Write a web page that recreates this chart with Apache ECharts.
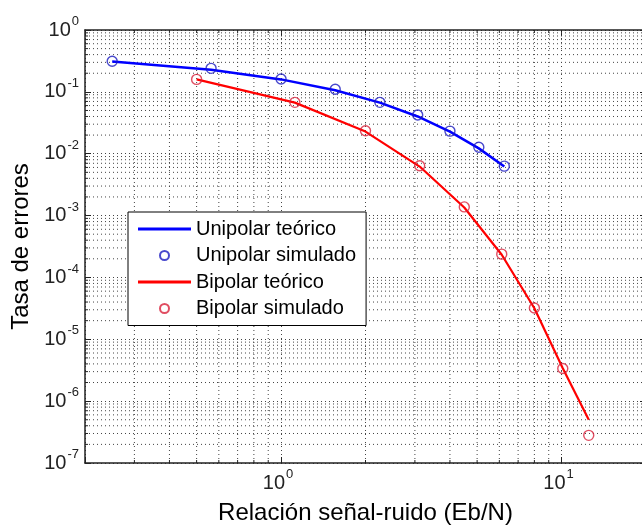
<!DOCTYPE html>
<html>
<head>
<meta charset="utf-8">
<script src="https://cdn.jsdelivr.net/npm/echarts@6/dist/echarts.min.js"></script>
<style>
  html, body { margin: 0; padding: 0; background: #fff; }
  #chart { width: 642px; height: 526px; }
</style>
</head>
<body>
<div id="chart"></div>
<script>
// Eb/N del caso unipolar y bipolar
var uniX = [0.25, 0.563, 1.0, 1.56, 2.25, 3.07, 4.0, 5.07, 6.25];
var uniTeo = [0.309, 0.227, 0.159, 0.106, 0.067, 0.040, 0.0228, 0.0122, 0.0062];
var uniSim = [0.312, 0.240, 0.161, 0.110, 0.0677, 0.0422, 0.0232, 0.0127, 0.0063];

var bipX = [0.5, 1.12, 2.0, 3.12, 4.5, 6.12, 8.0, 10.1, 12.5];
var bipTeo = [0.159, 0.067, 0.0228, 0.0062, 0.00135, 0.000233, 3.17e-5, 3.4e-6, 5.0e-7];
var bipSim = [0.159, 0.0677, 0.0235, 0.0064, 0.00138, 0.000238, 3.2e-5, 3.37e-6, 2.8e-7];

var xMin = 0.2, xMax = 20, yMin = 1e-7, yMax = 1;

var FONT = "'Liberation Sans', Arial, sans-serif";
var GRID_DASH = [1, 3];
var GRID_COLOR = '#444';

function pairs(xs, ys) {
  return xs.map(function (x, i) { return [x, ys[i]]; });
}

// rejilla menor logarítmica (2..9 de cada década)
var xMinor = [];
[0.1, 1].forEach(function (d) {
  for (var m = 2; m <= 9; m++) {
    var v = m * d;
    if (v > xMin && v < xMax) xMinor.push([v, yMin]);
  }
});
var yMinor = [];
for (var k = -7; k < 0; k++) {
  for (var m = 2; m <= 9; m++) yMinor.push([xMin, m * Math.pow(10, k)]);
}

function powLabel(v) {
  var e = Math.log10(v);
  if (Math.abs(e - Math.round(e)) > 1e-6) return '';
  return '{b|10}{e|' + Math.round(e) + '}';
}

function richFor(padRight) {
  return {
    b: { fontSize: 20, fontFamily: FONT, color: '#222', verticalAlign: 'bottom', lineHeight: 20 },
    e: { fontSize: 13, fontFamily: FONT, color: '#222', verticalAlign: 'bottom', lineHeight: 13, padding: [0, padRight, 12, 1] }
  };
}

var chart = echarts.init(document.getElementById('chart'));
var option = {
  backgroundColor: '#fff',
  animation: false,
  grid: { left: 85, top: 30, right: -4, bottom: 63, outerBoundsMode: 'none' },
  xAxis: [
    {
      type: 'log', logBase: 10, min: xMin, max: xMax,
      name: 'Relación señal-ruido (Eb/N)',
      nameLocation: 'middle', nameGap: 38,
      nameTextStyle: { fontSize: 24, fontFamily: FONT, color: '#000' },
      axisLine: { lineStyle: { color: '#222', width: 1.5 } },
      axisTick: { inside: true, length: 6, lineStyle: { color: '#222' } },
      axisLabel: { margin: 10, formatter: powLabel, rich: richFor(6) },
      splitLine: { show: true, lineStyle: { type: GRID_DASH, color: GRID_COLOR, width: 1 } }
    },
    {
      type: 'log', logBase: 10, min: xMin, max: xMax, position: 'top',
      axisLine: { lineStyle: { color: '#222', width: 1.5 } },
      axisTick: { inside: true, length: 6, lineStyle: { color: '#222' } },
      axisLabel: { show: false },
      splitLine: { show: false }
    }
  ],
  yAxis: [
    {
      type: 'log', logBase: 10, min: yMin, max: yMax,
      name: 'Tasa de errores',
      nameLocation: 'middle', nameGap: 50,
      nameTextStyle: { fontSize: 24, fontFamily: FONT, color: '#000' },
      axisLine: { lineStyle: { color: '#222', width: 1.5 } },
      axisTick: { inside: true, length: 6, lineStyle: { color: '#222' } },
      axisLabel: { margin: 6, formatter: powLabel, rich: richFor(0) },
      splitLine: { show: true, lineStyle: { type: GRID_DASH, color: GRID_COLOR, width: 1 } }
    },
    {
      type: 'log', logBase: 10, min: yMin, max: yMax, position: 'right',
      axisLine: { lineStyle: { color: '#222', width: 1.5 } },
      axisTick: { inside: true, length: 6 },
      axisLabel: { show: false },
      splitLine: { show: false }
    }
  ],
  legend: {
    orient: 'vertical',
    left: 128, top: 212,
    padding: [7, 10, 7, 10],
    itemWidth: 53, itemHeight: 9, itemGap: 6.5,
    backgroundColor: '#fff',
    borderColor: '#000', borderWidth: 1,
    textStyle: { fontSize: 20, fontFamily: FONT, color: '#000' },
    data: [
      { name: 'Unipolar teórico', icon: 'path://M0,0H53V3H0Z' },
      { name: 'Unipolar simulado' },
      { name: 'Bipolar teórico', icon: 'path://M0,0H53V3H0Z' },
      { name: 'Bipolar simulado' }
    ]
  },
  series: [
    {
      // rejilla menor vertical + marcas menores
      type: 'custom', silent: true, z: 1,
      data: xMinor,
      renderItem: function (params, api) {
        var v = api.value(0);
        var p1 = api.coord([v, yMin]);
        var p2 = api.coord([v, yMax]);
        return {
          type: 'group',
          children: [
            { type: 'line', shape: { x1: p1[0], y1: p1[1], x2: p2[0], y2: p2[1] },
              style: { stroke: GRID_COLOR, lineWidth: 1, lineDash: GRID_DASH } },
            { type: 'line', shape: { x1: p1[0], y1: p1[1], x2: p1[0], y2: p1[1] - 3 },
              style: { stroke: '#222', lineWidth: 1 } },
            { type: 'line', shape: { x1: p2[0], y1: p2[1], x2: p2[0], y2: p2[1] + 3 },
              style: { stroke: '#222', lineWidth: 1 } }
          ]
        };
      }
    },
    {
      // rejilla menor horizontal + marcas menores
      type: 'custom', silent: true, z: 1,
      data: yMinor,
      renderItem: function (params, api) {
        var v = api.value(1);
        var p1 = api.coord([xMin, v]);
        var p2 = api.coord([xMax, v]);
        return {
          type: 'group',
          children: [
            { type: 'line', shape: { x1: p1[0], y1: p1[1], x2: p2[0], y2: p2[1] },
              style: { stroke: GRID_COLOR, lineWidth: 1, lineDash: GRID_DASH } },
            { type: 'line', shape: { x1: p1[0], y1: p1[1], x2: p1[0] + 3, y2: p1[1] },
              style: { stroke: '#222', lineWidth: 1 } }
          ]
        };
      }
    },
    {
      name: 'Unipolar teórico', type: 'line', z: 3,
      data: pairs(uniX, uniTeo),
      symbol: 'none',
      color: '#0000ff',
      lineStyle: { color: '#0000ff', width: 2.5 }
    },
    {
      name: 'Unipolar simulado', type: 'scatter', z: 4,
      data: pairs(uniX, uniSim),
      symbol: 'circle', symbolSize: 10,
      color: '#1c1cc0',
      itemStyle: { color: 'rgba(0,0,0,0)', borderColor: '#1c1cc0', borderWidth: 1.4 }
    },
    {
      name: 'Bipolar teórico', type: 'line', z: 3,
      data: pairs(bipX, bipTeo),
      symbol: 'none',
      color: '#ff0000',
      lineStyle: { color: '#ff0000', width: 2.2 }
    },
    {
      name: 'Bipolar simulado', type: 'scatter', z: 4,
      data: pairs(bipX, bipSim),
      symbol: 'circle', symbolSize: 10,
      color: '#d8203a',
      itemStyle: { color: 'rgba(0,0,0,0)', borderColor: '#d8203a', borderWidth: 1.4 }
    }
  ]
};
chart.setOption(option);
</script>
</body>
</html>
